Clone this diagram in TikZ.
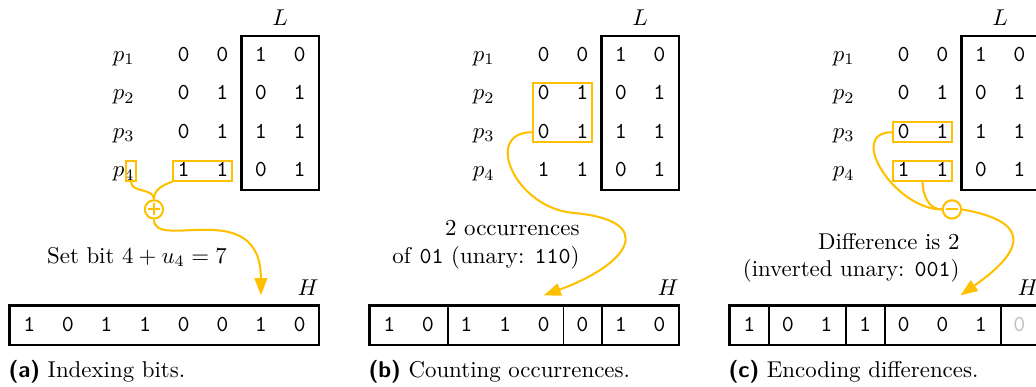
\documentclass[tikz,border=0pt]{standalone}
\usetikzlibrary{arrows.meta}

\definecolor{hlyellow}{RGB}{255,192,0}

\tikzstyle{rowlab} = [text height=1.5ex, text depth=.25ex, inner sep=0pt]
\tikzstyle{bit} = [rowlab, font=\ttfamily]
\tikzstyle{hbit} = [bit, minimum width=16.87pt, minimum height=16.87pt]
\tikzstyle{frame} = [line width=1pt]
\tikzstyle{sep} = [line width=.8pt]
\tikzstyle{hlbox} = [draw=hlyellow, line width=.9pt, minimum height=8.6pt, inner sep=0pt]
\tikzstyle{link} = [draw=hlyellow, line width=.9pt]
\tikzstyle{pointer} = [-{Triangle[length=7.5pt,width=5.5pt]}]
\tikzstyle{opnode} = [circle, draw=hlyellow, line width=.9pt, minimum size=8pt, inner sep=0pt]
\tikzstyle{opplus} = [opnode, path picture={\draw[hlyellow, line width=.9pt]
    ([xshift=-2.6pt]path picture bounding box.center) -- ([xshift=2.6pt]path picture bounding box.center)
    ([yshift=-2.6pt]path picture bounding box.center) -- ([yshift=2.6pt]path picture bounding box.center);}]
\tikzstyle{opminus} = [opnode, path picture={\draw[hlyellow, line width=.9pt]
    ([xshift=-2.6pt]path picture bounding box.center) -- ([xshift=2.6pt]path picture bounding box.center);}]
\tikzstyle{note} = [inner sep=0pt]
\tikzstyle{capt} = [anchor=west, inner sep=0pt]

\begin{document}
\begin{tikzpicture}[x=16.87pt, y=16.87pt]
\useasboundingbox (0.241,1.425) rectangle (27.08,-8.6);
%begin panel-a
\begin{scope}
    \node[rowlab] (a-p1) at (3.45,0) {$p_1$};
    \node[rowlab] (a-p2) at (3.45,-1) {$p_2$};
    \node[rowlab] (a-p3) at (3.45,-2) {$p_3$};
    \node[rowlab] (a-p4) at (3.45,-3) {$p_4$};
    \node[bit] (a-1-1) at (5,0) {0}; \node[bit] (a-1-2) at (6,0) {0}; \node[bit] (a-1-3) at (7,0) {1}; \node[bit] (a-1-4) at (8,0) {0};
    \node[bit] (a-2-1) at (5,-1) {0}; \node[bit] (a-2-2) at (6,-1) {1}; \node[bit] (a-2-3) at (7,-1) {0}; \node[bit] (a-2-4) at (8,-1) {1};
    \node[bit] (a-3-1) at (5,-2) {0}; \node[bit] (a-3-2) at (6,-2) {1}; \node[bit] (a-3-3) at (7,-2) {1}; \node[bit] (a-3-4) at (8,-2) {1};
    \node[bit] (a-4-1) at (5,-3) {1}; \node[bit] (a-4-2) at (6,-3) {1}; \node[bit] (a-4-3) at (7,-3) {0}; \node[bit] (a-4-4) at (8,-3) {1};
    \draw[frame] (6.5,0.5) rectangle (8.5,-3.5);
    \node[above=1pt] (a-L) at (7.5,0.5) {$L$};
%highlights
    \node[hlbox, minimum width=4.4pt] (a-sub) at (3.635,-3) {};
    \node[hlbox, minimum width=25.6pt] (a-box) at (5.49,-3) {};
    \node[opplus] (a-plus) at (4.23,-4) {};
%array H
    \node[hbit] (a-h1) at (1,-7) {1}; \node[hbit] (a-h2) at (2,-7) {0}; \node[hbit] (a-h3) at (3,-7) {1}; \node[hbit] (a-h4) at (4,-7) {1};
    \node[hbit] (a-h5) at (5,-7) {0}; \node[hbit] (a-h6) at (6,-7) {0}; \node[hbit] (a-h7) at (7,-7) {1}; \node[hbit] (a-h8) at (8,-7) {0};
    \draw[frame] (a-h1.north west) rectangle (a-h8.south east);
    \node[above=1pt] (a-H) at (8.22,-6.5) {$H$};
    \node[note] (a-txt) at (3.79,-5.23) {Set bit $4+u_4=7$};
%links
    \coordinate (a-end) at ([yshift=4.4pt]a-h7.north);
    \draw[link] (a-sub.south) to[out=-90,in=90] (a-plus.north);
    \draw[link] (a-box.south west) to[out=-160,in=90] (a-plus.north);
    \draw[link, pointer] (a-plus.south) .. controls +(0,-0.83) and +(0,2.6) .. (a-end);
    \node[capt] (a-cap) at (0.45,-8.21) {\textsf{\textbf{(a)}} Indexing bits.};
\end{scope}
%end panel-a
%begin panel-b
\begin{scope}[xshift=157.33pt]
    \node[rowlab] (b-p1) at (3.45,0) {$p_1$};
    \node[rowlab] (b-p2) at (3.45,-1) {$p_2$};
    \node[rowlab] (b-p3) at (3.45,-2) {$p_3$};
    \node[rowlab] (b-p4) at (3.45,-3) {$p_4$};
    \node[bit] (b-1-1) at (5,0) {0}; \node[bit] (b-1-2) at (6,0) {0}; \node[bit] (b-1-3) at (7,0) {1}; \node[bit] (b-1-4) at (8,0) {0};
    \node[bit] (b-2-1) at (5,-1) {0}; \node[bit] (b-2-2) at (6,-1) {1}; \node[bit] (b-2-3) at (7,-1) {0}; \node[bit] (b-2-4) at (8,-1) {1};
    \node[bit] (b-3-1) at (5,-2) {0}; \node[bit] (b-3-2) at (6,-2) {1}; \node[bit] (b-3-3) at (7,-2) {1}; \node[bit] (b-3-4) at (8,-2) {1};
    \node[bit] (b-4-1) at (5,-3) {1}; \node[bit] (b-4-2) at (6,-3) {1}; \node[bit] (b-4-3) at (7,-3) {0}; \node[bit] (b-4-4) at (8,-3) {1};
    \draw[frame] (6.5,0.5) rectangle (8.5,-3.5);
    \node[above=1pt] (b-L) at (7.5,0.5) {$L$};
%highlights
    \node[hlbox, minimum width=25.6pt, minimum height=25.8pt] (b-box) at (5.49,-1.5) {};
%array H
    \node[hbit] (b-h1) at (1,-7) {1}; \node[hbit] (b-h2) at (2,-7) {0}; \node[hbit] (b-h3) at (3,-7) {1}; \node[hbit] (b-h4) at (4,-7) {1};
    \node[hbit] (b-h5) at (5,-7) {0}; \node[hbit] (b-h6) at (6,-7) {0}; \node[hbit] (b-h7) at (7,-7) {1}; \node[hbit] (b-h8) at (8,-7) {0};
    \draw[frame] (b-h1.north west) rectangle (b-h8.south east);
    \draw[sep] (b-h2.north east) -- (b-h2.south east);
    \draw[sep] (b-h5.north east) -- (b-h5.south east);
    \draw[sep] (b-h6.north east) -- (b-h6.south east);
    \node[above=1pt] (b-H) at (8.22,-6.5) {$H$};
    \node[note, anchor=east, align=right] (b-txt) at (5.94,-4.92) {2 occurrences\\of \texttt{01} (unary: \texttt{110})};
%links
    \coordinate (b-bend) at (5.76,-4.09);
    \coordinate (b-end) at ([yshift=4.4pt]b-h5.north);
    \draw[link, pointer] (b-box.west |- b-p3) .. controls +(180:1.3) and +(175:1.5) .. (b-bend)
        .. controls +(-5:2.2) and +(20:2.4) .. (b-end);
    \node[capt] (b-cap) at (0.45,-8.21) {\textsf{\textbf{(b)}} Counting occurrences.};
\end{scope}
%end panel-b
%begin panel-c
\begin{scope}[xshift=314.66pt]
    \node[rowlab] (c-p1) at (3.45,0) {$p_1$};
    \node[rowlab] (c-p2) at (3.45,-1) {$p_2$};
    \node[rowlab] (c-p3) at (3.45,-2) {$p_3$};
    \node[rowlab] (c-p4) at (3.45,-3) {$p_4$};
    \node[bit] (c-1-1) at (5,0) {0}; \node[bit] (c-1-2) at (6,0) {0}; \node[bit] (c-1-3) at (7,0) {1}; \node[bit] (c-1-4) at (8,0) {0};
    \node[bit] (c-2-1) at (5,-1) {0}; \node[bit] (c-2-2) at (6,-1) {1}; \node[bit] (c-2-3) at (7,-1) {0}; \node[bit] (c-2-4) at (8,-1) {1};
    \node[bit] (c-3-1) at (5,-2) {0}; \node[bit] (c-3-2) at (6,-2) {1}; \node[bit] (c-3-3) at (7,-2) {1}; \node[bit] (c-3-4) at (8,-2) {1};
    \node[bit] (c-4-1) at (5,-3) {1}; \node[bit] (c-4-2) at (6,-3) {1}; \node[bit] (c-4-3) at (7,-3) {0}; \node[bit] (c-4-4) at (8,-3) {1};
    \draw[frame] (6.5,0.5) rectangle (8.5,-3.5);
    \node[above=1pt] (c-L) at (7.5,0.5) {$L$};
%highlights
    \node[hlbox, minimum width=25.6pt] (c-box3) at (5.49,-2) {};
    \node[hlbox, minimum width=25.6pt] (c-box4) at (5.49,-3) {};
    \node[opminus] (c-minus) at (6.25,-4) {};
%array H
    \node[hbit] (c-h1) at (1,-7) {1}; \node[hbit] (c-h2) at (2,-7) {0}; \node[hbit] (c-h3) at (3,-7) {1}; \node[hbit] (c-h4) at (4,-7) {1};
    \node[hbit] (c-h5) at (5,-7) {0}; \node[hbit] (c-h6) at (6,-7) {0}; \node[hbit] (c-h7) at (7,-7) {1}; \node[hbit, text=black!25] (c-h8) at (8,-7) {0};
    \draw[frame] (c-h1.north west) rectangle (c-h8.south east);
    \draw[sep] (c-h1.north east) -- (c-h1.south east);
    \draw[sep] (c-h3.north east) -- (c-h3.south east);
    \draw[sep] (c-h4.north east) -- (c-h4.south east);
    \draw[sep] (c-h7.north east) -- (c-h7.south east);
    \node[above=1pt] (c-H) at (8.22,-6.5) {$H$};
    \node[note, anchor=east, align=right] (c-txt) at (6.46,-5.26) {Difference is 2\\(inverted unary: \texttt{001})};
%links
    \coordinate (c-end) at ([xshift=-0.7pt, yshift=4.4pt]c-h6.north east);
    \draw[link] (c-box3.west) to[out=180,in=180,looseness=1.3] (c-minus.west);
    \draw[link] (c-box4.south) to[out=-90,in=180] (c-minus.west);
    \draw[link, pointer] (c-minus.east) .. controls +(-10:1.6) and +(35:2.3) .. (c-end);
    \node[capt] (c-cap) at (0.45,-8.21) {\textsf{\textbf{(c)}} Encoding differences.};
\end{scope}
%end panel-c
\end{tikzpicture}
\end{document}
